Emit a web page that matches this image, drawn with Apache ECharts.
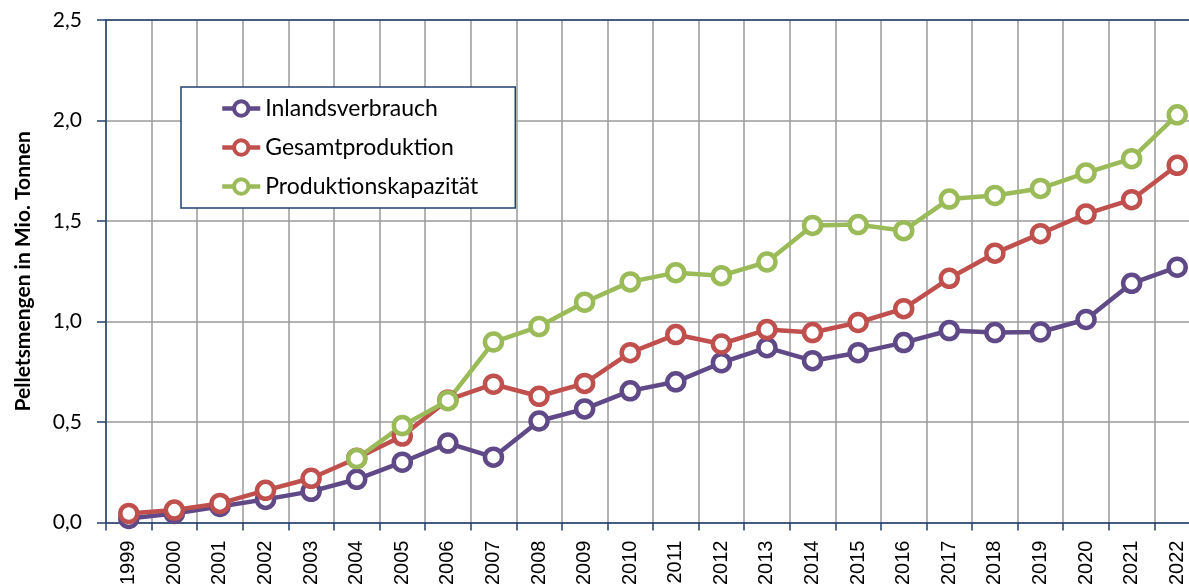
<!DOCTYPE html>
<html>
<head>
<meta charset="utf-8">
<script src="https://cdn.jsdelivr.net/npm/echarts@6/dist/echarts.min.js"></script>
<style>
  html, body { margin: 0; padding: 0; background: #fff; overflow: hidden; }
  /* chart is a bit wider than the window: the source picture cuts off the right edge */
  #chart { width: 1200px; height: 588px; }
</style>
</head>
<body>
<div id="chart"></div>
<script>
const years = ['1999', '2000', '2001', '2002', '2003', '2004', '2005', '2006', '2007', '2008', '2009', '2010',
  '2011', '2012', '2013', '2014', '2015', '2016', '2017', '2018', '2019', '2020', '2021', '2022'];

const inlandsverbrauch = [0.02, 0.045, 0.08, 0.115, 0.155, 0.215, 0.30, 0.395, 0.325, 0.505, 0.565, 0.655,
  0.70, 0.795, 0.87, 0.805, 0.845, 0.895, 0.955, 0.945, 0.948, 1.01, 1.19, 1.27];

const gesamtproduktion = [0.045, 0.062, 0.095, 0.16, 0.22, 0.32, 0.43, 0.61, 0.688, 0.628, 0.692, 0.845,
  0.935, 0.888, 0.96, 0.945, 0.995, 1.064, 1.215, 1.34, 1.437, 1.535, 1.606, 1.777];

const produktionskapazitaet = [null, null, null, null, null, 0.318, 0.482, 0.606, 0.898, 0.975, 1.096, 1.197,
  1.243, 1.228, 1.296, 1.478, 1.482, 1.452, 1.609, 1.627, 1.662, 1.739, 1.81, 2.028];

const yTicks = { min: 0, max: 2.5, interval: 0.5 };

const axisBlue = '#22406f';
const gridGray = '#9a9a9a';
const uiFont = 'Lato';

function lineSeries(name, data, color) {
  return {
    name: name,
    type: 'line',
    data: data,
    symbol: 'circle',
    symbolSize: 17,
    lineStyle: { color: color, width: 4.5 },
    itemStyle: { color: '#fff', borderColor: color, borderWidth: 4.5 },
    emphasis: { disabled: true },
    animation: false
  };
}

const myChart = echarts.init(document.getElementById('chart'));

myChart.setOption({
  backgroundColor: '#fff',
  animation: false,
  grid: { left: 106, right: 0, top: 20, bottom: 65 },
  legend: {
    orient: 'vertical',
    left: 181,
    top: 87,
    padding: [10, 37, 10, 39],
    itemWidth: 38,
    itemHeight: 18,
    itemGap: 16,
    borderColor: axisBlue,
    borderWidth: 1.5,
    backgroundColor: '#fff',
    itemStyle: { borderWidth: 4 },
    lineStyle: { width: 4.5 },
    textStyle: { fontFamily: uiFont, fontSize: 23, color: '#000' },
    data: ['Inlandsverbrauch', 'Gesamtproduktion', 'Produktionskapazität']
  },
  xAxis: [{
    type: 'category',
    data: years,
    boundaryGap: true,
    axisLine: { lineStyle: { color: axisBlue, width: 1.5 } },
    axisTick: { show: true, length: 8, lineStyle: { color: axisBlue, width: 1.5 } },
    axisLabel: {
      rotate: 90,
      margin: 18,
      fontFamily: 'Liberation Sans',
      fontSize: 20,
      color: '#000'
    },
    splitLine: { show: true, lineStyle: { color: gridGray, width: 1.5 } }
  }, {
    type: 'category',
    data: years,
    position: 'top',
    axisLine: { lineStyle: { color: axisBlue, width: 1.5 } },
    axisTick: { show: false },
    axisLabel: { show: false },
    splitLine: { show: false }
  }],
  yAxis: {
    type: 'value',
    min: yTicks.min,
    max: yTicks.max,
    interval: yTicks.interval,
    name: 'Pelletsmengen in Mio. Tonnen',
    nameLocation: 'middle',
    nameGap: 72,
    nameTextStyle: { fontFamily: uiFont, fontSize: 21, fontWeight: 'bold', color: '#000' },
    axisLine: { show: true, lineStyle: { color: axisBlue, width: 1.5 } },
    axisTick: { show: true, length: 9, lineStyle: { color: axisBlue, width: 1.5 } },
    axisLabel: {
      margin: 24,
      fontFamily: uiFont,
      fontSize: 21,
      color: '#000',
      formatter: function (v) { return v.toFixed(1).replace('.', ','); }
    },
    splitLine: { show: true, lineStyle: { color: gridGray, width: 1.5 } }
  },
  series: [
    lineSeries('Inlandsverbrauch', inlandsverbrauch, '#5f4a87'),
    lineSeries('Gesamtproduktion', gesamtproduktion, '#c0504d'),
    lineSeries('Produktionskapazität', produktionskapazitaet, '#9bbb59')
  ]
});
</script>
</body>
</html>
